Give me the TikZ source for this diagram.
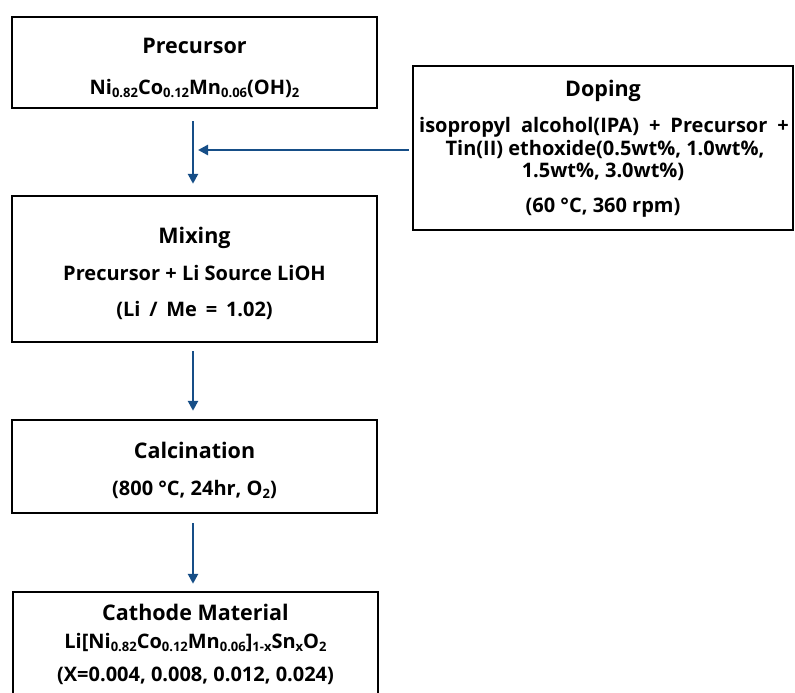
\documentclass[tikz,border=0pt]{standalone}
\usepackage{fontspec}
\setmainfont{Open Sans}
\usetikzlibrary{arrows.meta,calc}
\definecolor{arrblue}{RGB}{22,78,135}
\newcommand\dn[1]{\raisebox{-0.3ex}{\fontsize{13}{13}\selectfont #1}}
\tikzset{
  box/.style={draw=black,line width=2.4pt,rectangle,inner sep=0pt},
  ttl/.style={anchor=base,font=\fontsize{21.5}{24}\selectfont\bfseries,inner sep=0pt},
  bdy/.style={anchor=base,font=\fontsize{20}{22}\selectfont\bfseries,inner sep=0pt},
  arr/.style={draw=arrblue,line width=2.8pt,-{Triangle[width=10pt,length=10pt]}}
}
\begin{document}
\begin{tikzpicture}[x=1pt,y=-1pt]
\useasboundingbox (0,0) rectangle (795,693);
% boxes
\node[box,minimum width=365pt,minimum height=91pt] (pre) at (194.5,62.5) {};
\node[box,minimum width=380pt,minimum height=164pt] (dop) at (603,148) {};
\node[box,minimum width=365pt,minimum height=146pt] (mix) at (194.5,269) {};
\node[box,minimum width=365pt,minimum height=93pt] (cal) at (194.5,466.5) {};
\node[box,minimum width=365pt,minimum height=128pt] (cat) at (195.5,656) {};
% texts
\node[ttl] (preT) at (194.5,54) {Precursor};
\node[bdy] (preB) at (194.5,94) {Ni\dn{0.82}Co\dn{0.12}Mn\dn{0.06}(OH)\dn{2}};
\node[ttl] (dopT) at (603,96) {Doping};
\node[bdy] (dop1) at (604,132.5) {\spaceskip=0.5em isopropyl alcohol(IPA) + Precursor +};
\node[bdy] (dop2) at (605,155) {Tin(II) ethoxide(0.5wt\%, 1.0wt\%,};
\node[bdy] (dop3) at (603,177) {1.5wt\%, 3.0wt\%)};
\node[bdy] (dop4) at (603,212.5) {(60 °C, 360 rpm)};
\node[ttl] (mixT) at (194.5,243) {Mixing};
\node[bdy] (mix1) at (194.5,280) {Precursor + Li Source LiOH};
\node[bdy] (mix2) at (194.5,316.5) {\spaceskip=0.44em (Li / Me = 1.02)};
\node[ttl] (calT) at (194.5,458) {Calcination};
\node[bdy] (cal1) at (194.5,495) {(800 °C, 24hr, O\dn{2})};
\node[ttl] (catT) at (195.5,620) {Cathode Material};
\node[bdy] (cat1) at (195.5,648) {Li[Ni\dn{0.82}Co\dn{0.12}Mn\dn{0.06}]\dn{1-x}Sn\dn{x}O\dn{2}};
\node[bdy] (cat2) at (195.5,681) {(X=0.004, 0.008, 0.012, 0.024)};
% arrows
\coordinate (j) at (193,150);
\draw[arr] (193,0 |- pre.south) ++(0,12) -- ($(193,0 |- mix.north)+(0,-11)$);
\draw[arr] ($(dop.west)+(-3,2)$) -- ($(j)+(5,0)$);
\draw[arr] ($(193,0 |- mix.south)+(0,8)$) -- ($(193,0 |- cal.north)+(0,-8)$);
\draw[arr] ($(193,0 |- cal.south)+(0,9)$) -- ($(193,0 |- cat.north)+(0,-7)$);
\end{tikzpicture}
\end{document}
